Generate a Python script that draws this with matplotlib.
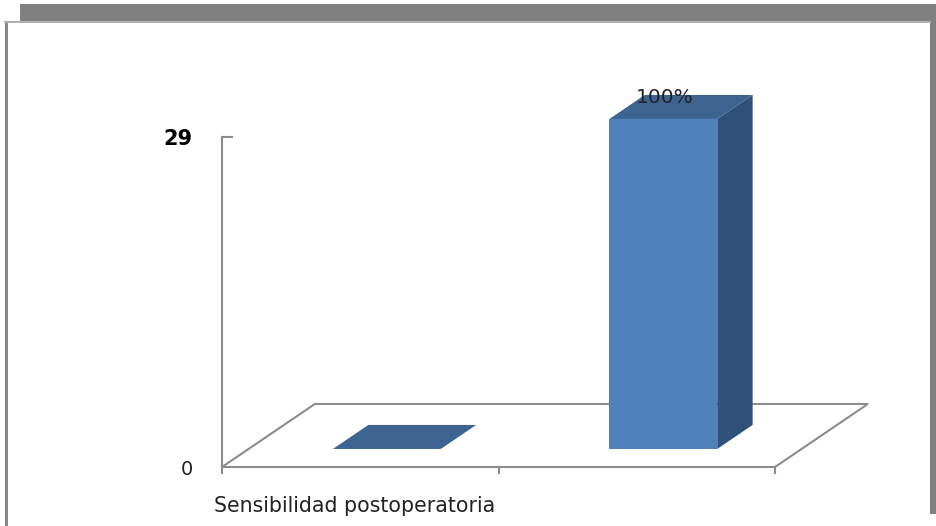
import matplotlib
matplotlib.use('Agg')
import matplotlib.pyplot as plt
from matplotlib.patches import Polygon, Rectangle

# chart data
categories = ['Sensibilidad postoperatoria', '']
values = [0, 29]
value_labels = ['', '100%']
ymax = 29

# 3d look: floor depth offset (data units) and bar depth placement
depth_dx, depth_dy = 0.336, 5.54
bar_front, bar_back = 0.286, 0.667
bar_width = 0.39

c_front = '#4f81bd'
c_top = '#3d6491'
c_side = '#30527a'
c_line = '#8c8c8c'

W, H = 936, 526
fig = plt.figure(figsize=(W / 100, H / 100), dpi=100)

# slide frame
frame = fig.add_axes([0, 0, 1, 1])
frame.set_xlim(0, W)
frame.set_ylim(H, 0)
frame.axis('off')
frame.add_patch(Rectangle((20, 4), W - 20, 17, color='#808080', lw=0))
frame.add_patch(Rectangle((5, 21), 2.5, H - 21, color='#8a8a8a', lw=0))
frame.add_patch(Rectangle((930, 21), 6, 493, color='#808080', lw=0))
frame.plot([5, 930], [22, 22], color='#b0b0b0', lw=1.5)

ax = fig.add_axes([222 / W, (H - 467) / H, 553 / W, 330 / H])
ax.set_xlim(-0.5, len(values) - 0.5)
ax.set_ylim(0, ymax)
ax.axis('off')

# floor
x0, x1 = -0.5, len(values) - 0.5
floor = [(x0, 0), (x1, 0), (x1 + depth_dx, depth_dy), (x0 + depth_dx, depth_dy), (x0, 0)]
ax.plot([p[0] for p in floor], [p[1] for p in floor], color=c_line, lw=1.5,
        clip_on=False, solid_joinstyle='miter')
# y axis and ticks
ax.plot([x0, x0], [0, ymax], color=c_line, lw=1.5, clip_on=False)
ax.plot([x0, x0 + 0.035], [ymax, ymax], color=c_line, lw=1.5, clip_on=False)
for xt in [x0, 0.5, x1]:
    ax.plot([xt, xt], [0, -0.55], color=c_line, lw=1.5, clip_on=False)
ax.text(x0 - 0.105, -0.2, '0', ha='right', va='center', fontsize=14, color='#222222')
ax.text(x0 - 0.105, ymax - 0.2, str(ymax), ha='right', va='center', fontsize=15,
        fontweight='bold', color='black')

# bars
for i, v in enumerate(values):
    fx = i - bar_width / 2 + bar_front * depth_dx
    fy = bar_front * depth_dy
    bx = (bar_back - bar_front) * depth_dx
    by = (bar_back - bar_front) * depth_dy
    if v > 0:
        ax.bar(fx, v, width=bar_width, bottom=fy, align='edge', color=c_front,
               lw=0, clip_on=False, zorder=3)
        ax.add_patch(Polygon([(fx + bar_width, fy), (fx + bar_width + bx, fy + by),
                              (fx + bar_width + bx, fy + by + v), (fx + bar_width, fy + v)],
                             closed=True, color=c_side, lw=0, clip_on=False, zorder=3))
    ax.add_patch(Polygon([(fx, fy + v), (fx + bar_width, fy + v),
                          (fx + bar_width + bx, fy + by + v), (fx + bx, fy + by + v)],
                         closed=True, color=c_top, lw=0, clip_on=False, zorder=3))
    if value_labels[i]:
        ax.text(i + 0.1, fy + by + v - 0.2, value_labels[i], ha='center', va='center',
                fontsize=14.5, color='#222222', zorder=4)

ax.text(0 - 0.02, -3.4, categories[0], ha='center', va='center', fontsize=14.8,
        color='#222222')

fig.savefig('out.png', dpi=100)
